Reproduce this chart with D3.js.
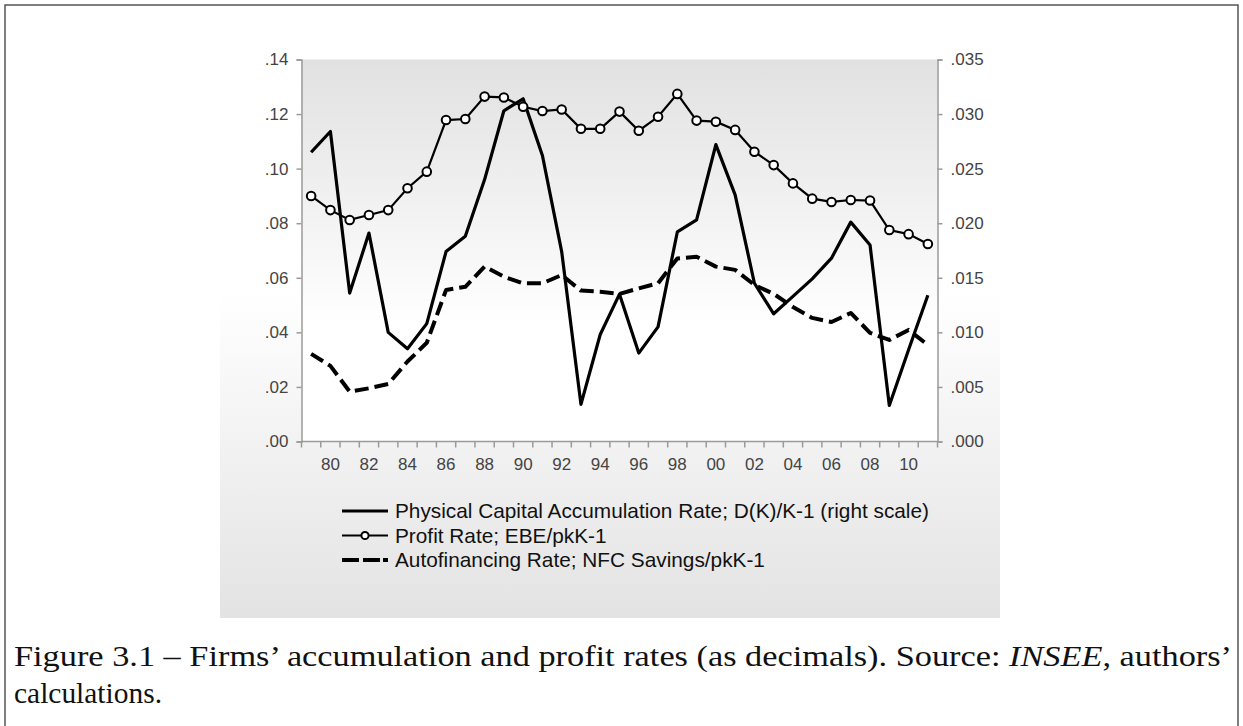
<!DOCTYPE html>
<html>
<head>
<meta charset="utf-8">
<script src="https://cdn.jsdelivr.net/npm/d3@7"></script>
<style>
  body { margin: 0; background: #fff; }
  .sans { font-family: "Liberation Sans", Arial, sans-serif; }
  .serif { font-family: "Liberation Serif", "DejaVu Serif", serif; }
</style>
</head>
<body>
<div id="chart"></div>
<script>

// years 1979 .. 2011
var years = d3.range(1979, 2012);

// physical capital accumulation rate, right scale
var accumRate = [0.0265, 0.0284, 0.0136, 0.0191, 0.0100, 0.0085, 0.0108, 0.0174, 0.0188, 0.0240,
                 0.0303, 0.0314, 0.0262, 0.0174, 0.0034, 0.0098, 0.0135, 0.0081, 0.0105, 0.0192,
                 0.0203, 0.0272, 0.0226, 0.0145, 0.0117, 0.0133, 0.0149, 0.0168, 0.0201, 0.0180,
                 0.0033, 0.0084, 0.0134];

// profit rate, left scale
var profitRate = [0.0900, 0.0848, 0.0812, 0.0830, 0.0848, 0.0928, 0.0989, 0.1178, 0.1182, 0.1264,
                  0.1261, 0.1227, 0.1211, 0.1217, 0.1146, 0.1146, 0.1209, 0.1139, 0.1190, 0.1274,
                  0.1176, 0.1172, 0.1142, 0.1062, 0.1013, 0.0946, 0.0890, 0.0878, 0.0885, 0.0883,
                  0.0775, 0.0760, 0.0724];

// autofinancing rate, left scale
var autofinRate = [0.0321, 0.0277, 0.0183, 0.0195, 0.0211, 0.0293, 0.0362, 0.0555, 0.0567, 0.0641,
                   0.0604, 0.0580, 0.0580, 0.0610, 0.0553, 0.0549, 0.0541, 0.0561, 0.0580, 0.0671,
                   0.0677, 0.0641, 0.0629, 0.0574, 0.0541, 0.0493, 0.0453, 0.0438, 0.0471, 0.0398,
                   0.0372, 0.0409, 0.0354];

var leftTicks  = [0, 0.02, 0.04, 0.06, 0.08, 0.10, 0.12, 0.14];
var rightTicks = [0, 0.005, 0.010, 0.015, 0.020, 0.025, 0.030, 0.035];
var yearLabels = d3.range(1980, 2011, 2);

var legendLabels = ["Physical Capital Accumulation Rate; D(K)/K-1 (right scale)",
                    "Profit Rate; EBE/pkK-1",
                    "Autofinancing Rate; NFC Savings/pkK-1"];

var W = 1243, H = 726;

var svg = d3.select("#chart").append("svg").attr("width", W).attr("height", H);
var defs = svg.append("defs");

var gOuter = defs.append("linearGradient").attr("id", "gradOuter")
    .attr("gradientUnits", "userSpaceOnUse")
    .attr("x1", 0).attr("y1", 30).attr("x2", 0).attr("y2", 618);
gOuter.append("stop").attr("offset", "0").attr("stop-color", "#ffffff");
gOuter.append("stop").attr("offset", "0.45").attr("stop-color", "#ffffff");
gOuter.append("stop").attr("offset", "1").attr("stop-color", "#e3e3e3");

var gPlot = defs.append("linearGradient").attr("id", "gradPlot")
    .attr("gradientUnits", "userSpaceOnUse")
    .attr("x1", 0).attr("y1", 59).attr("x2", 0).attr("y2", 441);
gPlot.append("stop").attr("offset", "0").attr("stop-color", "#e1e1e1");
gPlot.append("stop").attr("offset", "0.7").attr("stop-color", "#ffffff");
gPlot.append("stop").attr("offset", "1").attr("stop-color", "#ffffff");

// figure frame
svg.append("rect")
   .attr("x", 5).attr("y", 5).attr("width", 1233).attr("height", 740)
   .attr("fill", "none").attr("stroke", "#555").attr("stroke-width", 1.5);

// chart image background
svg.append("rect")
   .attr("x", 220).attr("y", 30).attr("width", 780).attr("height", 588)
   .attr("fill", "url(#gradOuter)");

var x = d3.scaleBand().domain(years).range([301.5, 937.5]).padding(0);
var yL = d3.scaleLinear().domain([0, 0.14]).range([441.5, 59.5]);
var yR = d3.scaleLinear().domain([0, 0.035]).range([441.5, 59.5]);

svg.append("rect")
   .attr("x", x.range()[0]).attr("y", yL(0.14))
   .attr("width", x.range()[1] - x.range()[0]).attr("height", yL(0) - yL(0.14))
   .attr("fill", "url(#gradPlot)");

var axisColor = "#9a9a9a", labelColor = "#444";

function styleAxis(g) {
  g.attr("font-family", null).attr("font-size", null).attr("class", "sans");
  g.select(".domain").attr("stroke", axisColor).attr("stroke-width", 1.5);
  g.selectAll(".tick line").attr("stroke", axisColor).attr("stroke-width", 1.5);
  g.selectAll(".tick text").attr("fill", labelColor).style("font-size", "17px");
}

var fmtL = function(d) { return d3.format(".2f")(d).replace(/^0/, ""); };
var fmtR = function(d) { return d3.format(".3f")(d).replace(/^0/, ""); };

svg.append("g").attr("transform", "translate(" + x.range()[0] + ",0)")
   .call(d3.axisLeft(yL).tickValues(leftTicks).tickFormat(fmtL).tickSizeOuter(0).tickSize(5).tickPadding(8))
   .call(styleAxis);

svg.append("g").attr("transform", "translate(" + x.range()[1] + ",0)")
   .call(d3.axisRight(yR).tickValues(rightTicks).tickFormat(fmtR).tickSizeOuter(0).tickSize(5).tickPadding(8))
   .call(styleAxis);

// x axis: ticks on band edges, labels in band centres
var xAxis = svg.append("g").attr("class", "sans").attr("transform", "translate(0," + yL(0) + ")");
xAxis.append("line")
     .attr("x1", x.range()[0]).attr("x2", x.range()[1])
     .attr("stroke", axisColor).attr("stroke-width", 1.5);
var edges = years.map(function(d) { return x(d); }).concat([x.range()[1]]);
xAxis.selectAll(".xtick").data(edges).enter().append("line")
     .attr("class", "xtick")
     .attr("x1", function(d) { return d; }).attr("x2", function(d) { return d; })
     .attr("y1", 0).attr("y2", 6)
     .attr("stroke", axisColor).attr("stroke-width", 1.5);
xAxis.selectAll(".xlab").data(yearLabels).enter().append("text")
     .attr("class", "xlab")
     .attr("x", function(d) { return x(d) + x.bandwidth() / 2; })
     .attr("y", 28.5)
     .attr("text-anchor", "middle")
     .attr("fill", labelColor)
     .style("font-size", "17px")
     .text(function(d) { return d3.format("02d")(d % 100); });

var cx = function(d, i) { return x(years[i]) + x.bandwidth() / 2; };

var lineAutofin = d3.line().x(cx).y(function(d) { return yL(d); });
var lineProfit  = d3.line().x(cx).y(function(d) { return yL(d); });
var lineAccum   = d3.line().x(cx).y(function(d) { return yR(d); });

svg.append("path").datum(autofinRate).attr("d", lineAutofin)
   .attr("fill", "none").attr("stroke", "#000").attr("stroke-width", 4)
   .attr("stroke-dasharray", "14,6").attr("stroke-linejoin", "round");

svg.append("path").datum(accumRate).attr("d", lineAccum)
   .attr("fill", "none").attr("stroke", "#000").attr("stroke-width", 3.2)
   .attr("stroke-linejoin", "round");

svg.append("path").datum(profitRate).attr("d", lineProfit)
   .attr("fill", "none").attr("stroke", "#000").attr("stroke-width", 2.2);

svg.selectAll(".dot").data(profitRate).enter().append("circle")
   .attr("class", "dot")
   .attr("cx", cx).attr("cy", function(d) { return yL(d); })
   .attr("r", 4.3)
   .attr("fill", "#fff").attr("stroke", "#000").attr("stroke-width", 2);

// legend
var legX = 342, legW = 46, legY = [511, 535.5, 560];
var leg = svg.append("g").attr("class", "sans");

leg.append("line").attr("x1", legX).attr("x2", legX + legW).attr("y1", legY[0]).attr("y2", legY[0])
   .attr("stroke", "#000").attr("stroke-width", 3);
leg.append("line").attr("x1", legX).attr("x2", legX + legW).attr("y1", legY[1]).attr("y2", legY[1])
   .attr("stroke", "#000").attr("stroke-width", 2);
leg.append("circle").attr("cx", legX + legW / 2).attr("cy", legY[1]).attr("r", 3.6)
   .attr("fill", "#fff").attr("stroke", "#000").attr("stroke-width", 2);
leg.append("line").attr("x1", legX).attr("x2", legX + legW).attr("y1", legY[2]).attr("y2", legY[2])
   .attr("stroke", "#000").attr("stroke-width", 4).attr("stroke-dasharray", "17,4,17,3,5");

leg.selectAll("text").data(legendLabels).enter().append("text")
   .attr("x", 395).attr("y", function(d, i) { return legY[i]; })
   .attr("dy", "0.36em")
   .attr("fill", "#111")
   .style("font-size", "20.8px")
   .text(function(d) { return d; });

// caption
var cap = svg.append("g").attr("class", "serif")
             .style("font-size", "30px").attr("fill", "#111");
var line1 = cap.append("text").attr("x", 14).attr("y", 666)
               .attr("textLength", 1218).attr("lengthAdjust", "spacingAndGlyphs");
line1.append("tspan").text("Figure 3.1 \u2013 Firms\u2019 accumulation and profit rates (as decimals). Source: ");
line1.append("tspan").style("font-style", "italic").text("INSEE");
line1.append("tspan").text(", authors\u2019");
cap.append("text").attr("x", 14).attr("y", 703)
   .attr("textLength", 148).attr("lengthAdjust", "spacingAndGlyphs")
   .text("calculations.");

</script>
</body>
</html>
